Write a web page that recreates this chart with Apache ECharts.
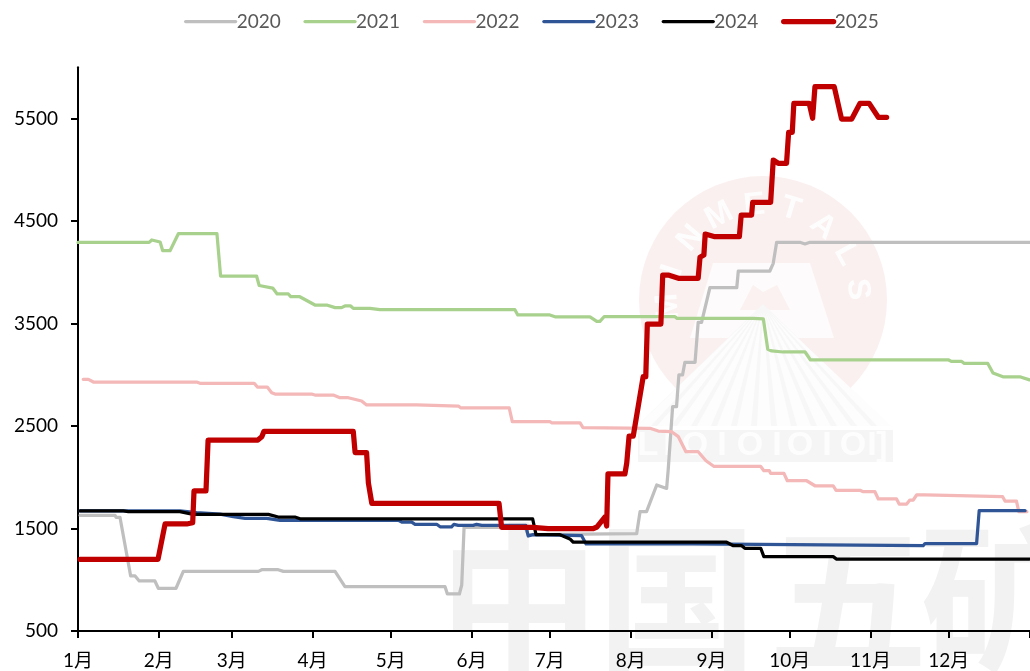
<!DOCTYPE html>
<html><head><meta charset="utf-8">
<style>html,body{margin:0;padding:0;background:#fff;overflow:hidden}#c{width:1030px;height:671px}</style>
<script src="https://cdn.jsdelivr.net/npm/echarts@6/dist/echarts.min.js"></script>
</head><body><div id="c"></div>
<script>
const monthDays = [0,31,59,90,120,151,181,212,243,273,304,334,365];
const monthLabels = ['1月','2月','3月','4月','5月','6月','7月','8月','9月','10月','11月','12月',''];
const yTicks = [500,1500,2500,3500,4500,5500];
const years = ['2020','2021','2022','2023','2024','2025'];
const colors = ['#bfbfbf','#a9d18e','#f4b8b8','#2f5597','#000000','#c00000'];
const widths = [3.25,3.25,3.25,3.25,3.25,5.25];

const s2020 = [[0.8,1629],[14.2,1629],[14.6,1609],[16.1,1609],[20.2,1037],[21.9,1037],[23.5,988],[29.5,988],[30.8,917],[37.6,917],[40.4,1082],[69.2,1082],[70.5,1098],[76.8,1098],[78.8,1082],[98.6,1082],[102.4,932],[140.8,932],[141.7,861],[146.3,861],[147.2,949],[148.1,1512],[171.5,1512],[172.6,1440],[214.3,1449],[215.6,1664],[218.1,1664],[222,1924],[225.8,1891],[226.4,2071],[228.1,2688],[229.6,2688],[230.5,2998],[231.9,2998],[232.8,3121],[236.7,3121],[237.9,3512],[239.2,3512],[242.4,3849],[252.7,3849],[253.3,4012],[265.4,4012],[266.7,4087],[268,4292],[276.9,4292],[278.9,4276],[280.8,4292],[365,4292]];
const s2021 = [[0,4291],[27.3,4291],[28.3,4315],[31.5,4295],[32.5,4210],[35.3,4210],[38.5,4376],[53.3,4376],[54.7,3963],[68.5,3963],[69.5,3871],[74.7,3846],[76.4,3788],[80.7,3788],[81.6,3763],[84.9,3763],[90.9,3680],[95.4,3680],[98.6,3655],[101.1,3655],[102.4,3671],[104.6,3671],[105.6,3647],[112,3647],[115.8,3635],[167.6,3635],[168.7,3583],[181,3583],[183,3565],[196.4,3565],[199,3520],[200.2,3520],[201.8,3566],[229,3566],[229.8,3550],[259,3550],[259.7,3544],[262.9,3544],[264.6,3248],[266.1,3232],[270.5,3222],[278.9,3222],[281,3144],[334,3144],[335,3130],[339,3130],[340,3110],[349,3110],[351,3017],[354.8,2980],[361.3,2980],[365,2950]];
const s2022 = [[2,2955],[4,2955],[5.9,2929],[45.5,2929],[46.8,2917],[67.6,2917],[68.8,2880],[72.6,2880],[74.3,2825],[75.6,2812],[89.6,2812],[90.9,2802],[97.9,2802],[100.5,2776],[103.7,2776],[108.8,2744],[110.7,2705],[129.9,2705],[130.5,2695],[145.9,2695],[146.8,2678],[165.4,2678],[166.6,2542],[181,2542],[181.8,2530],[192.6,2530],[193.7,2485],[219.4,2478],[222.6,2451],[227.7,2444],[230.3,2396],[233.2,2249],[237.9,2249],[240.9,2161],[244,2105],[261.9,2105],[263.1,2064],[265.2,2064],[265.7,2038],[270.8,2038],[272.1,1966],[279.5,1966],[282.7,1917],[289.7,1917],[290.8,1872],[300,1872],[301.2,1859],[305.7,1859],[307,1788],[314,1788],[315,1739],[317.9,1739],[319.1,1778],[320.4,1778],[321.7,1827],[324.9,1827],[325.5,1810],[354.7,1810],[355.6,1768],[360,1768],[360.9,1664],[364,1664]];
const s2023 = [[0.8,1671],[39.1,1671],[45.5,1654],[46.1,1641],[54.5,1641],[59.6,1615],[64.1,1598],[72.4,1598],[77.5,1580],[122.9,1580],[124.2,1563],[128,1563],[129.3,1541],[137.6,1541],[138.9,1517],[143.3,1517],[144.2,1541],[145.9,1531],[151.6,1531],[152.9,1541],[154.9,1531],[171.8,1531],[172.7,1427],[174.6,1440],[193.2,1430],[194.9,1349],[236,1349],[236.7,1332],[324.2,1332],[324.9,1352],[344.7,1352],[345.7,1674],[363.3,1674]];
const s2024 = [[0.8,1671],[17.4,1671],[19.3,1664],[39.1,1664],[44.2,1638],[73,1638],[76.8,1612],[83.2,1612],[85.2,1595],[174.4,1595],[175.7,1440],[184.9,1440],[188.7,1398],[190,1366],[248.8,1366],[251.4,1332],[254.6,1332],[255.8,1307],[261.9,1307],[263.1,1225],[289.7,1225],[291,1202],[365,1202]];
const s2025 = [[0.8,1200],[30.7,1200],[33.4,1544],[41.7,1544],[44,1556],[44.5,1868],[49.1,1868],[49.9,2363],[69,2363],[70.5,2395],[71.3,2447],[105.6,2447],[106.3,2240],[110.7,2240],[111.4,1944],[112.7,1746],[161.5,1746],[162.5,1512],[174.5,1512],[180.3,1498],[197.5,1498],[199.1,1515],[202.1,1612],[202.8,1524],[203.3,2032],[209.8,2032],[210.5,2139],[211.4,2402],[213,2402],[216.8,2981],[217.8,2981],[218.4,3495],[223.6,3495],[224.3,3973],[226.4,3973],[230.3,3941],[237.9,3941],[238.6,4146],[240.1,4168],[240.6,4373],[244.3,4347],[253.7,4347],[254.4,4558],[258.4,4558],[258.8,4682],[265.7,4682],[266.7,5095],[268.6,5063],[271.8,5063],[272.6,5365],[274,5365],[274.6,5648],[280.5,5648],[281.8,5502],[282.7,5810],[290.1,5810],[292.9,5495],[296.8,5495],[300,5648],[303.5,5648],[307,5512],[310.2,5512]];
const seriesData = [s2020,s2021,s2022,s2023,s2024,s2025];

const fontFamily = "Lato,'Noto Sans CJK SC',sans-serif";

// background watermark: company logo and name
const cx = 763, cy = 300;
const wm = [];
wm.push({type:'circle',silent:true,z:0,shape:{cx,cy,r:124},style:{fill:'#fbf0f0'}});
wm.push({type:'polygon',silent:true,z:0,shape:{points:[[713,263],[810,263],[834,338],[690,338]]},style:{fill:'#fdfbfb'}});
wm.push({type:'polygon',silent:true,z:0,shape:{points:[[740,310],[753,285],[763,292],[777,285],[790,310]]},style:{fill:'#fbf1f1'}});
wm.push({type:'polygon',silent:true,z:0,shape:{points:[[763,304],[889,426],[637,426]]},style:{fill:'#f8f7f7'}});
for (let i=0;i<13;i++){
  const t=i/12, xb=644+t*240;
  wm.push({type:'polygon',silent:true,z:0,shape:{points:[[763+(xb-763)*0.06,312],[xb-7,426],[xb+7,426]]},style:{fill:'#fdfdfd'}});
}
wm.push({type:'rect',silent:true,z:0,shape:{x:638,y:430,width:255,height:32},style:{fill:'#f5f5f5'}});
const baseGlyphs = ['L','I','O','I','O','I','O','I','O','I',']'];
const baseX = [648,668,695,722,750,777,800,827,853,872,882];
baseGlyphs.forEach((ch,i)=>{
  wm.push({type:'text',silent:true,z:0,x:baseX[i],y:446,
    style:{text:ch,fill:'#fdfdfd',fontSize:34,fontWeight:'bold',fontFamily:'Liberation Sans',align:'center',verticalAlign:'middle'}});
});
const logoLetters = 'MINMETALS'.split('');
logoLetters.forEach((ch,i)=>{
  const a=(-94+i*22.2)*Math.PI/180;
  wm.push({type:'text',silent:true,z:0,x:cx+95*Math.sin(a),y:cy-95*Math.cos(a),rotation:-a,
    style:{text:ch,fill:'#fefdfd',fontSize:32,fontWeight:'bold',fontFamily:'Liberation Sans',align:'center',verticalAlign:'middle'}});
});
['中','国','五','矿'].forEach((ch,i)=>{
  wm.push({type:'text',silent:true,z:0,x:[519,677,848,1000][i],y:598,
    style:{text:ch,fill:'#f2f2f2',fontSize:160,fontWeight:'bold',fontFamily:'Noto Sans CJK SC',align:'center',verticalAlign:'middle'}});
});

const chart = echarts.init(document.getElementById('c'),null,{renderer:'canvas'});
chart.setOption({
  animation:false,
  backgroundColor:'#fff',
  graphic:wm,
  legend:{
    show:true,left:179,top:7,itemWidth:50,itemHeight:14,itemGap:22.7,
    data:years,
    itemStyle:{opacity:0},
    lineStyle:{width:'inherit',cap:'round'},
    textStyle:{color:'#595959',fontSize:19,fontFamily,padding:[0,0,0,-4]}
  },
  grid:{left:78,right:0.5,top:67.25,bottom:40,outerBoundsMode:'none'},
  xAxis:{
    type:'value',min:0,max:365,
    splitLine:{show:false},
    axisLine:{show:true,onZero:false,lineStyle:{color:'#000',width:2}},
    axisTick:{show:true,length:7,customValues:monthDays,lineStyle:{color:'#000',width:2}},
    axisLabel:{show:true,customValues:monthDays,margin:20,color:'#000',fontSize:19,fontFamily,
      formatter:v=>monthLabels[monthDays.indexOf(v)]||''}
  },
  yAxis:{
    type:'value',min:500,max:6000,
    splitLine:{show:false},
    axisLine:{show:true,onZero:false,lineStyle:{color:'#000',width:2}},
    axisTick:{show:true,length:7,customValues:yTicks,lineStyle:{color:'#000',width:2}},
    axisLabel:{show:true,customValues:yTicks,margin:20,color:'#000',fontSize:19,fontFamily,formatter:v=>String(v)}
  },
  series:years.map((y,i)=>({
    name:y,type:'line',data:seriesData[i],showSymbol:false,symbol:'none',smooth:false,
    lineStyle:{color:colors[i],width:widths[i],cap:'round',join:'round'},
    itemStyle:{color:colors[i]},
    emphasis:{disabled:true},z:2+i
  }))
});
</script></body></html>
